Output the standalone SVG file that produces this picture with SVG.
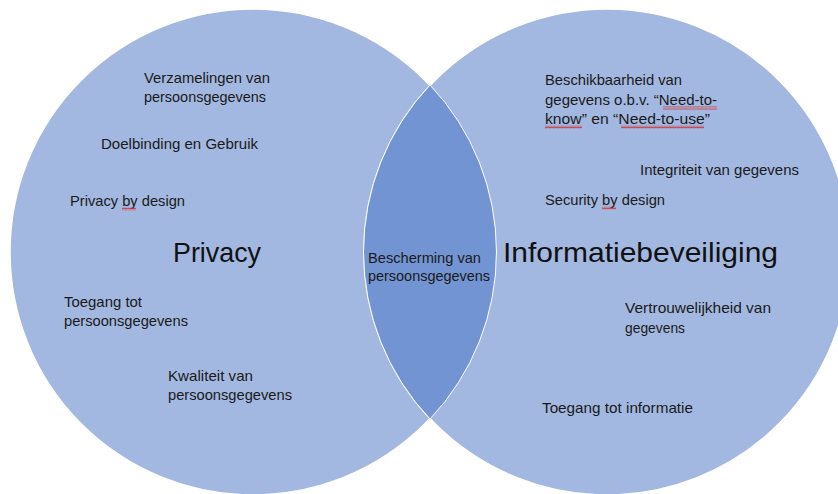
<svg xmlns="http://www.w3.org/2000/svg" width="838" height="494" viewBox="0 0 838 494">
<defs>
<style>
.circ{fill:#a2b8e1;stroke:#ffffff;stroke-width:1.5}
.lens{fill:#7394d3;stroke:#ffffff;stroke-width:1}
.t{font-family:"Liberation Sans",Arial,sans-serif;font-size:15px;fill:#1a1a1a}
.big{font-family:"Liberation Sans",Arial,sans-serif;font-size:28px;fill:#111111}
.sq{fill:url(#squiggle)}
</style>
<pattern id="squiggle" x="0" y="0" width="4" height="3" patternUnits="userSpaceOnUse">
<path d="M0,2.5 L1,0.5 L2,2.5 L3,0.5 L4,2.5" fill="none" stroke="#d43030" stroke-width="0.8"/>
</pattern>
</defs>
<rect width="838" height="494" fill="#ffffff"/>
<g id="privacy-circle"><circle class="circ" cx="253" cy="252" r="243"/></g>
<g id="informatiebeveiliging-circle"><circle class="circ" cx="607" cy="252" r="243"/></g>
<g id="overlap"><path class="lens" d="M430,85 A243,243 0 0 0 430,419 A243,243 0 0 0 430,85 Z"/></g>
<g id="connectors"></g>
<g id="label-privacy"><text class="big" x="173" y="262" textLength="88" lengthAdjust="spacingAndGlyphs">Privacy</text></g>
<g id="label-informatiebeveiliging"><text class="big" x="503" y="262" textLength="275" lengthAdjust="spacingAndGlyphs">Informatiebeveiliging</text></g>
<g id="label-bescherming">
<text class="t" x="368" y="263" textLength="113" lengthAdjust="spacingAndGlyphs">Bescherming van</text>
<text class="t" x="368" y="281" textLength="122" lengthAdjust="spacingAndGlyphs">persoonsgegevens</text>
</g>
<g id="item-verzamelingen">
<text class="t" x="144" y="83" textLength="126" lengthAdjust="spacingAndGlyphs">Verzamelingen van</text>
<text class="t" x="144" y="102" textLength="122" lengthAdjust="spacingAndGlyphs">persoonsgegevens</text>
</g>
<g id="item-doelbinding"><text class="t" x="101" y="149" textLength="157" lengthAdjust="spacingAndGlyphs">Doelbinding en Gebruik</text></g>
<g id="item-privacy-by-design">
<text class="t" x="70" y="206" textLength="115" lengthAdjust="spacingAndGlyphs">Privacy by design</text>
<rect class="sq" x="122" y="207.5" width="14" height="3"/>
</g>
<g id="item-toegang-persoonsgegevens">
<text class="t" x="64" y="307" textLength="78" lengthAdjust="spacingAndGlyphs">Toegang tot</text>
<text class="t" x="64" y="326" textLength="124" lengthAdjust="spacingAndGlyphs">persoonsgegevens</text>
</g>
<g id="item-kwaliteit">
<text class="t" x="168" y="381" textLength="85" lengthAdjust="spacingAndGlyphs">Kwaliteit van</text>
<text class="t" x="168" y="400" textLength="124" lengthAdjust="spacingAndGlyphs">persoonsgegevens</text>
</g>
<g id="item-beschikbaarheid">
<text class="t" x="545" y="85" textLength="137" lengthAdjust="spacingAndGlyphs">Beschikbaarheid van</text>
<text class="t" x="545" y="105" textLength="172" lengthAdjust="spacingAndGlyphs">gegevens o.b.v. “Need-to-</text>
<text class="t" x="545" y="124" textLength="165" lengthAdjust="spacingAndGlyphs">know” en “Need-to-use”</text>
<rect class="sq" x="663" y="106.5" width="54" height="3"/>
<rect class="sq" x="545" y="125.5" width="37" height="3"/>
<rect class="sq" x="621" y="125.5" width="83" height="3"/>
</g>
<g id="item-integriteit"><text class="t" x="640" y="175" textLength="159" lengthAdjust="spacingAndGlyphs">Integriteit van gegevens</text></g>
<g id="item-security-by-design">
<text class="t" x="545" y="205" textLength="120" lengthAdjust="spacingAndGlyphs">Security by design</text>
<rect class="sq" x="602" y="206.5" width="14" height="3"/>
</g>
<g id="item-vertrouwelijkheid">
<text class="t" x="625" y="313" textLength="146" lengthAdjust="spacingAndGlyphs">Vertrouwelijkheid van</text>
<text class="t" x="625" y="333" textLength="60" lengthAdjust="spacingAndGlyphs">gegevens</text>
</g>
<g id="item-toegang-informatie"><text class="t" x="542" y="413" textLength="151" lengthAdjust="spacingAndGlyphs">Toegang tot informatie</text></g>
</svg>
